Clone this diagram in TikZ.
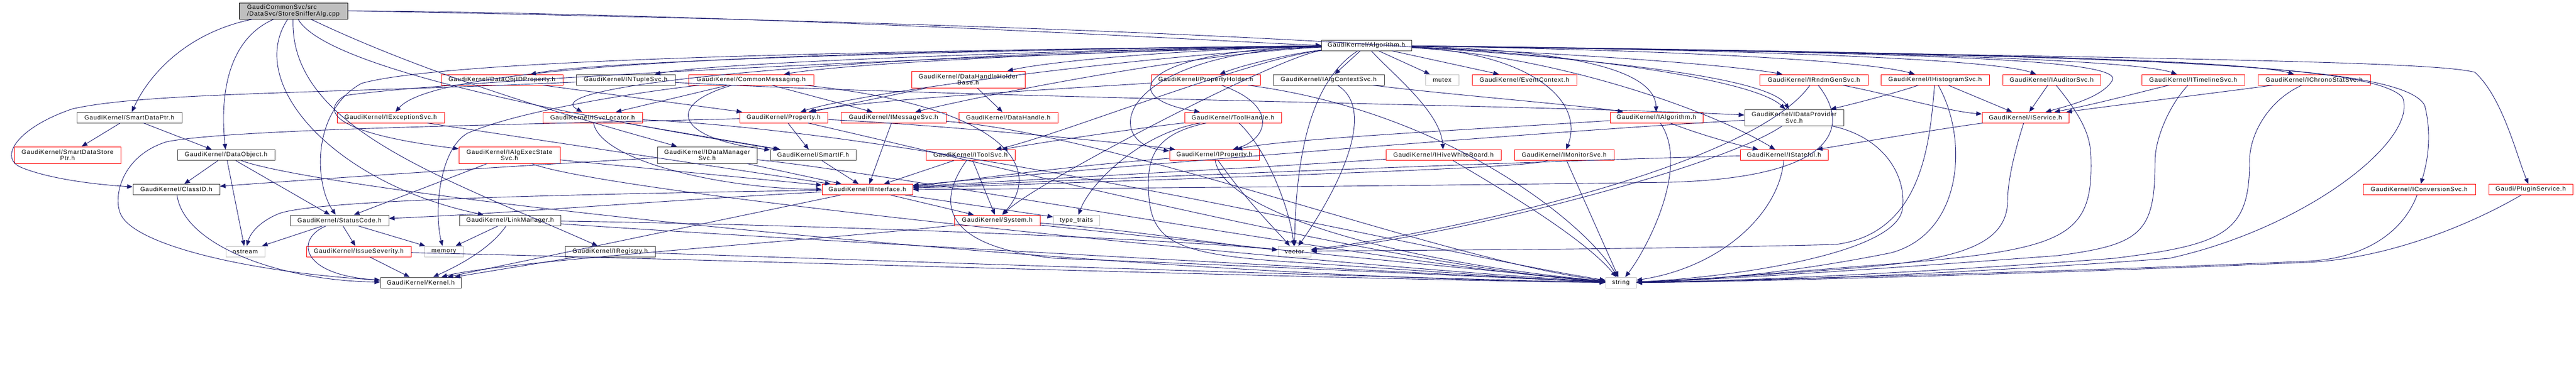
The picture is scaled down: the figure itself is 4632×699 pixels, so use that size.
\documentclass[tikz,border=0pt]{standalone}
\usepackage{fontspec}
\setmainfont{Liberation Sans}[LetterSpace=8]
\usepackage{xcolor}
\usepackage{tikz}
\usetikzlibrary{arrows.meta}

\definecolor{edgeblue}{HTML}{191970}
\definecolor{sysgray}{HTML}{BFBFBF}
\definecolor{boxred}{HTML}{FF0000}
\definecolor{boxblack}{HTML}{404040}

\tikzset{
  file/.style={draw=boxblack, line width=1pt, inner sep=0pt, minimum height=19pt,
    font=\fontsize{11}{11.5}\selectfont, align=center},
  filered/.style={file, draw=boxred},
  filesys/.style={file, draw=sysgray},
  fileroot/.style={file, fill=sysgray, draw=black, align=left},
  dep/.style={draw=edgeblue, line width=0.9pt, -{Triangle[length=10pt,width=8pt]}},
}

\begin{document}
\begin{tikzpicture}[x=1pt,y=-1pt]
\useasboundingbox (0,0) rectangle (4632,699);
\node[fileroot, minimum width=195pt, minimum height=29pt] (root) at (527.5,19.5) {GaudiCommonSvc/src\\/DataSvc/StoreSnifferAlg.cpp};
\node[file, minimum width=162pt] (algo) at (2457,81.5) {GaudiKernel/Algorithm.h};
\node[file, minimum width=189pt] (smartptr) at (232.5,211.5) {GaudiKernel/SmartDataPtr.h};
\node[filered, minimum width=191pt, minimum height=30pt] (storeptr) at (121.5,279) {GaudiKernel/SmartDataStore\\Ptr.h};
\node[file, minimum width=175pt] (dataobj) at (406.5,279) {GaudiKernel/DataObject.h};
\node[file, minimum width=156pt] (classid) at (317,341) {GaudiKernel/ClassID.h};
\node[filered, minimum width=193pt] (excsvc) at (702.5,211.5) {GaudiKernel/IExceptionSvc.h};
\node[file, minimum width=177pt] (status) at (610.5,396.5) {GaudiKernel/StatusCode.h};
\node[filesys, minimum width=70pt] (ostream) at (441,452.5) {ostream};
\node[filered, minimum width=188pt] (severity) at (645,452.5) {GaudiKernel/IssueSeverity.h};
\node[filesys, minimum width=70pt] (memory) at (798,452.5) {memory};
\node[file, minimum width=145pt] (kernel) at (756.5,508.5) {GaudiKernel/Kernel.h};
\node[filered, minimum width=219pt] (objidprop) at (902.5,143.5) {GaudiKernel/DataObjIDProperty.h};
\node[file, minimum width=178pt] (ntuple) at (1125,143.5) {GaudiKernel/INTupleSvc.h};
\node[filered, minimum width=179pt] (svcloc) at (1065.5,211.5) {GaudiKernel/ISvcLocator.h};
\node[filered, minimum width=182pt, minimum height=30pt] (execstate) at (916,279) {GaudiKernel/IAlgExecState\\Svc.h};
\node[file, minimum width=182pt] (linkmgr) at (917,396.5) {GaudiKernel/LinkManager.h};
\node[file, minimum width=162pt] (registry) at (1097,452.5) {GaudiKernel/IRegistry.h};
\node[filered, minimum width=225pt] (commsg) at (1350.5,143.5) {GaudiKernel/CommonMessaging.h};
\node[filered, minimum width=158pt] (property) at (1409,211.5) {GaudiKernel/Property.h};
\node[filered, minimum width=189pt] (msgsvc) at (1606.5,211.5) {GaudiKernel/IMessageSvc.h};
\node[file, minimum width=179pt, minimum height=30pt] (dmsvc) at (1271.5,279) {GaudiKernel/IDataManager\\Svc.h};
\node[file, minimum width=154pt] (smartif) at (1462,279) {GaudiKernel/SmartIF.h};
\node[filered, minimum width=163pt] (iface) at (1559.5,341) {GaudiKernel/IInterface.h};
\node[filered, minimum width=204pt, minimum height=30pt] (dhholder) at (1741,143) {GaudiKernel/DataHandleHolder\\Base.h};
\node[filered, minimum width=178pt] (dhandle) at (1813,211.5) {GaudiKernel/DataHandle.h};
\node[filered, minimum width=160pt] (toolsvc) at (1745,279) {GaudiKernel/IToolSvc.h};
\node[filered, minimum width=154pt] (system) at (1793,396.5) {GaudiKernel/System.h};
\node[filesys, minimum width=83pt] (traits) at (1935.5,396.5) {type\_traits};
\node[filered, minimum width=196pt] (propholder) at (2168,143.5) {GaudiKernel/PropertyHolder.h};
\node[filered, minimum width=174pt] (toolhandle) at (2217,211.5) {GaudiKernel/ToolHandle.h};
\node[filered, minimum width=161pt] (iprop) at (2183.5,279) {GaudiKernel/IProperty.h};
\node[filesys, minimum width=59pt] (vector) at (2327.5,452.5) {vector};
\node[file, minimum width=200pt] (ctxsvc) at (2389,143.5) {GaudiKernel/IAlgContextSvc.h};
\node[filesys, minimum width=60pt] (mutex) at (2593,143.5) {mutex};
\node[filered, minimum width=188pt] (evtctx) at (2741,143.5) {GaudiKernel/EventContext.h};
\node[filered, minimum width=207pt] (whiteboard) at (2595.5,279) {GaudiKernel/IHiveWhiteBoard.h};
\node[filered, minimum width=179pt] (monsvc) at (2812.5,279) {GaudiKernel/IMonitorSvc.h};
\node[filered, minimum width=167pt] (ialgo) at (2978.5,211.5) {GaudiKernel/IAlgorithm.h};
\node[filesys, minimum width=55pt] (string) at (2914.5,508.5) {string};
\node[filered, minimum width=195pt] (rndm) at (3261.5,143.5) {GaudiKernel/IRndmGenSvc.h};
\node[filered, minimum width=195pt] (histo) at (3479.5,143.5) {GaudiKernel/IHistogramSvc.h};
\node[file, minimum width=178pt, minimum height=29pt] (dpsvc) at (3226,211.5) {GaudiKernel/IDataProvider\\Svc.h};
\node[filered, minimum width=158pt] (stateful) at (3208,279) {GaudiKernel/IStateful.h};
\node[filered, minimum width=176pt] (auditor) at (3689,143.5) {GaudiKernel/IAuditorSvc.h};
\node[filered, minimum width=156pt] (service) at (3642,211.5) {GaudiKernel/IService.h};
\node[filered, minimum width=185pt] (timeline) at (3943.5,143.5) {GaudiKernel/ITimelineSvc.h};
\node[filered, minimum width=202pt] (chrono) at (4161,143.5) {GaudiKernel/IChronoStatSvc.h};
\node[filered, minimum width=202pt] (convsvc) at (4350,341) {GaudiKernel/IConversionSvc.h};
\node[filered, minimum width=151pt] (plugin) at (4550.5,341) {Gaudi/PluginService.h};

% StoreSnifferAlg.cpp
\draw[dep] (root) .. controls (330,60) and (265,140) .. (smartptr);
\draw[dep] (root) .. controls (410,70) and (395,170) .. (dataobj);
\draw[dep] (root) .. controls (440,150) and (600,330) .. (linkmgr);
\draw[dep] (root) .. controls (520,230) and (800,320) .. (registry);
\draw[dep] (root) .. controls (590,130) and (1100,220) .. (smartif);
\draw[dep] (root) .. controls (800,150) and (1100,230) .. (dmsvc);
\draw[dep] (root.east) .. controls (1400,25) and (2250,78) .. (algo.west);
\draw[dep] (root.east) .. controls (2000,45) and (3150,90) .. (dpsvc);
\draw[dep] (smartptr) -- (storeptr);
\draw[dep] (smartptr) -- (dataobj);
\draw[dep] (dataobj) -- (classid);
\draw[dep] (dataobj) -- (ostream);
\draw[dep] (dataobj) -- (status);
\draw[dep] (dataobj) .. controls (600,350) and (2000,500) .. (string);
\draw[dep] (classid) .. controls (330,440) and (500,505) .. (kernel);
\draw[dep] (status) -- (ostream);
\draw[dep] (status) -- (severity);
\draw[dep] (status) -- (memory);
\draw[dep] (status) .. controls (530,430) and (540,495) .. (kernel);
\draw[dep] (severity) -- (kernel);
\draw[dep] (severity) .. controls (1200,465) and (2500,505) .. (string);
\draw[dep] (linkmgr) -- (memory);
\draw[dep] (linkmgr) .. controls (880,450) and (820,480) .. (kernel);
\draw[dep] (linkmgr) .. controls (1500,405) and (2100,430) .. (vector);
\draw[dep] (linkmgr) .. controls (1400,430) and (2500,490) .. (string);
\draw[dep] (registry) -- (kernel);
\draw[dep] (registry) .. controls (1600,470) and (2500,500) .. (string);
\draw[dep] (ntuple) .. controls (600,168) and (260,166) .. (130,196) .. controls (30,230) and (-5,285) .. (40,302) .. controls (90,322) and (170,332) .. (classid);
\draw[dep] (ntuple) .. controls (1700,175) and (2800,190) .. (dpsvc);
\draw[dep] (property) .. controls (900,225) and (420,232) .. (300,255) .. controls (220,280) and (205,350) .. (215,380) .. controls (230,440) and (450,490) .. (kernel);
\draw[dep] (property) -- (smartif);
\draw[dep] (property) .. controls (1700,225) and (2050,260) .. (iprop);
\draw[dep] (property) .. controls (1800,300) and (2500,480) .. (string);
\draw[dep] (objidprop) -- (property);
\draw[dep] (svcloc) .. controls (1080,290) and (1300,340) .. (iface);
\draw[dep] (svcloc) -- (smartif);
\draw[dep] (svcloc) .. controls (1700,240) and (2600,460) .. (string);
\draw[dep] (excsvc) -- (iface);
\draw[dep] (execstate) -- (status);
\draw[dep] (execstate) -- (iface);
\draw[dep] (execstate) .. controls (1100,350) and (2400,480) .. (string);
\draw[dep] (dmsvc) .. controls (900,300) and (600,320) .. (classid);
\draw[dep] (dmsvc) -- (iface);
\draw[dep] (dmsvc) .. controls (1600,310) and (2500,480) .. (string);
\draw[dep] (smartif) -- (iface);
\draw[dep] (commsg) .. controls (1150,165) and (930,200) .. (840,240) .. controls (790,270) and (780,380) .. (memory);
\draw[dep] (commsg) -- (svcloc);
\draw[dep] (commsg) .. controls (1190,190) and (1220,250) .. (smartif);
\draw[dep] (commsg) -- (msgsvc);
\draw[dep] (commsg) .. controls (1800,190) and (1880,300) .. (system);
\draw[dep] (msgsvc) -- (iface);
\draw[dep] (msgsvc) .. controls (2000,240) and (2600,470) .. (string);
\draw[dep] (dhholder) -- (dhandle);
\draw[dep] (dhholder) -- (property);
\draw[dep] (toolsvc) -- (iface);
\draw[dep] (toolsvc) -- (system);
\draw[dep] (toolsvc) .. controls (1680,370) and (1700,445) .. (1900,465) .. controls (2300,480) and (2700,500) .. (string);
\draw[dep] (system) .. controls (1500,430) and (900,470) .. (kernel);
\draw[dep] (system) .. controls (2100,430) and (2700,490) .. (string);
\draw[dep] (system) .. controls (2000,410) and (2200,440) .. (vector);
\draw[dep] (iface) -- (system);
\draw[dep] (iface) -- (traits);
\draw[dep] (iface) .. controls (1000,350) and (560,360) .. (500,385) .. controls (465,400) and (450,420) .. (ostream);
\draw[dep] (iface) .. controls (1200,360) and (900,385) .. (status);
\draw[dep] (iface) -- (kernel);
\draw[dep] (propholder) .. controls (1900,160) and (1550,180) .. (property);
\draw[dep] (propholder) .. controls (2300,190) and (2280,250) .. (iprop);
\draw[dep] (propholder) .. controls (2600,200) and (2850,400) .. (string);
\draw[dep] (toolhandle) .. controls (2050,230) and (1880,255) .. (toolsvc);
\draw[dep] (toolhandle) .. controls (2050,240) and (1960,330) .. (traits);
\draw[dep] (toolhandle) .. controls (2080,240) and (2065,280) .. (2065,330) .. controls (2065,430) and (2100,455) .. (2300,470) .. controls (2600,490) and (2800,505) .. (string);
\draw[dep] (toolhandle) .. controls (2280,270) and (2320,380) .. (vector);
\draw[dep] (iprop) .. controls (1900,300) and (1700,330) .. (iface);
\draw[dep] (iprop) .. controls (2200,380) and (2500,470) .. (string);
\draw[dep] (iprop) .. controls (2240,360) and (2300,420) .. (vector);
\draw[dep] (ctxsvc) .. controls (2480,200) and (2400,350) .. (vector);
\draw[dep] (ctxsvc) .. controls (2600,170) and (2850,190) .. (ialgo);
\draw[dep] (whiteboard) .. controls (2300,300) and (1900,320) .. (iface);
\draw[dep] (whiteboard) .. controls (2700,340) and (2850,430) .. (string);
\draw[dep] (monsvc) .. controls (2750,300) and (2500,310) .. (iface);
\draw[dep] (monsvc) -- (string);
\draw[dep] (ialgo) .. controls (3050,240) and (3120,260) .. (stateful);
\draw[dep] (ialgo) .. controls (2700,230) and (2300,250) .. (iprop);
\draw[dep] (ialgo) .. controls (3040,300) and (2960,450) .. (string);
\draw[dep] (rndm) .. controls (3400,170) and (3500,200) .. (service);
\draw[dep] (rndm) .. controls (3330,230) and (3300,320) .. (3000,328) .. controls (2500,335) and (1900,340) .. (iface);
\draw[dep] (rndm) .. controls (3150,300) and (2600,420) .. (vector);
\draw[dep] (histo) -- (service);
\draw[dep] (histo) .. controls (3400,170) and (3320,190) .. (dpsvc);
\draw[dep] (histo) .. controls (3540,250) and (3530,420) .. (3400,455) .. controls (3200,495) and (3050,505) .. (string);
\draw[dep] (histo) .. controls (3470,250) and (3460,420) .. (3300,440) .. controls (2900,450) and (2500,450) .. (vector);
\draw[dep] (dpsvc) .. controls (2800,235) and (2000,300) .. (iface);
\draw[dep] (dpsvc) .. controls (3400,250) and (3430,330) .. (3420,380) .. controls (3400,460) and (3100,500) .. (string);
\draw[dep] (dpsvc) .. controls (3100,300) and (2600,430) .. (vector);
\draw[dep] (stateful) .. controls (2900,285) and (2000,320) .. (iface);
\draw[dep] (stateful) .. controls (3200,380) and (3100,480) .. (string);
\draw[dep] (auditor) -- (service);
\draw[dep] (auditor) .. controls (3760,230) and (3760,260) .. (3760,300) .. controls (3760,430) and (3700,450) .. (3400,475) .. controls (3200,490) and (3050,505) .. (string);
\draw[dep] (service) .. controls (3500,230) and (3350,255) .. (stateful);
\draw[dep] (service) .. controls (3620,280) and (3610,330) .. (3610,360) .. controls (3610,450) and (3500,470) .. (3300,485) .. controls (3100,500) and (3000,505) .. (string);
\draw[dep] (timeline) .. controls (3850,165) and (3780,185) .. (service);
\draw[dep] (timeline) .. controls (3900,190) and (3875,250) .. (3875,290) .. controls (3875,420) and (3850,440) .. (3700,460) .. controls (3300,490) and (3050,505) .. (string);
\draw[dep] (chrono) .. controls (4000,165) and (3800,190) .. (service);
\draw[dep] (chrono) .. controls (4080,180) and (4045,240) .. (4045,290) .. controls (4045,420) and (4000,440) .. (3800,465) .. controls (3400,495) and (3050,508) .. (string);
\draw[dep] (convsvc) .. controls (4320,420) and (4250,465) .. (4150,470) .. controls (3700,490) and (3100,505) .. (string);
\draw[dep] (plugin) .. controls (4450,400) and (4300,465) .. (4150,472) .. controls (3700,492) and (3100,508) .. (string);

% Algorithm.h
\draw[dep] (algo) .. controls (1900,88) and (1100,105) .. (objidprop);
\draw[dep] (algo) .. controls (2000,88) and (1300,110) .. (ntuple);
\draw[dep] (algo) .. controls (2100,88) and (1550,110) .. (commsg);
\draw[dep] (algo) .. controls (1500,92) and (790,110) .. (excsvc);
\draw[dep] (algo) .. controls (1600,95) and (950,150) .. (svcloc);
\draw[dep] (algo) .. controls (1700,100) and (800,145) .. (620,172) .. controls (575,200) and (600,240) .. (execstate);
\draw[dep] (algo) .. controls (1500,92) and (800,108) .. (650,150) .. controls (560,200) and (565,330) .. (status);
\draw[dep] (algo) .. controls (2150,88) and (1900,108) .. (dhholder);
\draw[dep] (algo) .. controls (2100,95) and (1550,165) .. (property);
\draw[dep] (algo) .. controls (2150,95) and (1750,175) .. (msgsvc);
\draw[dep] (algo) .. controls (2250,105) and (1900,245) .. (toolsvc);
\draw[dep] (algo) .. controls (2300,100) and (1860,330) .. (system);
\draw[dep] (algo) .. controls (2330,95) and (2240,115) .. (propholder);
\draw[dep] (algo) .. controls (2050,90) and (2000,175) .. (toolhandle);
\draw[dep] (algo) .. controls (2000,95) and (1980,260) .. (iprop);
\draw[dep] (algo) .. controls (2350,150) and (2330,300) .. (vector);
\draw[dep] (algo) -- (ctxsvc);
\draw[dep] (algo) -- (mutex);
\draw[dep] (algo) -- (evtctx);
\draw[dep] (algo) .. controls (2500,130) and (2590,200) .. (whiteboard);
\draw[dep] (algo) .. controls (2750,95) and (2850,180) .. (monsvc);
\draw[dep] (algo) .. controls (2800,90) and (2975,120) .. (ialgo);
\draw[dep] (algo) .. controls (2800,95) and (3100,115) .. (rndm);
\draw[dep] (algo) .. controls (3000,90) and (3350,108) .. (histo);
\draw[dep] (algo) .. controls (2800,95) and (3150,140) .. (dpsvc);
\draw[dep] (algo) .. controls (2800,100) and (3080,200) .. (stateful);
\draw[dep] (algo) .. controls (3200,90) and (3590,108) .. (auditor);
\draw[dep] (algo) .. controls (3400,92) and (3840,108) .. (timeline);
\draw[dep] (algo) .. controls (3600,95) and (4040,110) .. (chrono);
\draw[dep] (algo) .. controls (3500,95) and (3820,108) .. (3798,145) .. controls (3780,175) and (3720,190) .. (service);
\draw[dep] (algo) .. controls (3800,100) and (4320,110) .. (4360,190) .. controls (4375,250) and (4362,300) .. (convsvc);
\draw[dep] (algo) .. controls (4000,105) and (4380,112) .. (4450,130) .. controls (4500,175) and (4525,280) .. (plugin);
\draw[dep] (algo) .. controls (3800,100) and (4260,112) .. (4320,175) .. controls (4350,250) and (4150,410) .. (3900,465) .. controls (3500,495) and (3100,508) .. (string);
\end{tikzpicture}
\end{document}
